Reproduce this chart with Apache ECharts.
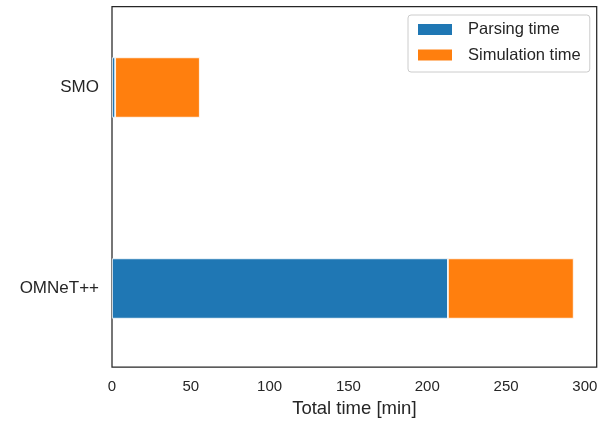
<!DOCTYPE html>
<html>
<head>
<meta charset="utf-8">
<style>
  html, body { margin: 0; padding: 0; background: #fff; overflow: hidden; }
  /* the canvas starts a little above the page so the row bands can reach past the frame */
  #chart { position: absolute; left: 0; top: -13px; width: 608px; height: 436px; }
</style>
<script src="https://cdn.jsdelivr.net/npm/echarts@6/dist/echarts.min.js"></script>
</head>
<body>
<div id="chart"></div>
<script>
// Tools compared, top to bottom
const tools = ['SMO', 'OMNeT++'];
// Minutes spent in each phase, per tool
const parsingTime = [2.0, 213.1];
const simulationTime = [53.7, 79.8];
const seriesNames = ['Parsing time', 'Simulation time'];
const xTicks = [0, 50, 100, 150, 200, 250, 300];

const xMax = 307.5;
const FONT = '"Liberation Sans", Arial, sans-serif';
const TEXT = '#262626';
const SHIFT = 13; // canvas offset above the page

const chart = echarts.init(document.getElementById('chart'), null, { renderer: 'canvas' });

const hiddenX = {
  type: 'value', min: 0, max: xMax, interval: 50,
  axisLine: { show: false }, axisTick: { show: false },
  axisLabel: { show: false }, splitLine: { show: false }
};

chart.setOption({
  animation: false,
  backgroundColor: '#fff',
  grid: [
    // framed plot area carrying the time axis
    { left: 112, right: 11.3, top: 6.5 + SHIFT, bottom: 55, show: true,
      borderColor: TEXT, borderWidth: 1.25, backgroundColor: 'transparent' },
    // band layout for the two tool rows
    { left: 112, right: 11.3, top: 0, height: 402 }
  ],
  legend: {
    orient: 'vertical',
    left: 408, top: 15 + SHIFT,
    data: seriesNames,
    icon: 'rect',
    itemWidth: 36, itemHeight: 13, itemGap: 8.5,
    padding: [6, 9, 8.5, 8],
    backgroundColor: '#fff',
    borderColor: '#cccccc', borderWidth: 1, borderRadius: 3,
    textStyle: { fontFamily: FONT, fontSize: 16.5, color: TEXT, padding: [0, 0, 0, 10] }
  },
  xAxis: [
    {
      gridIndex: 0, type: 'value', min: 0, max: xMax, interval: 50,
      name: 'Total time [min]', nameLocation: 'middle', nameGap: 31,
      nameTextStyle: { fontFamily: FONT, fontSize: 18.5, color: TEXT },
      axisLine: { show: false }, axisTick: { show: false }, splitLine: { show: false },
      axisLabel: {
        fontFamily: FONT, fontSize: 15, color: TEXT, margin: 12,
        showMaxLabel: false,
        formatter: v => (xTicks.includes(v) ? String(v) : '')
      }
    },
    Object.assign({ gridIndex: 1 }, hiddenX)
  ],
  yAxis: [
    { gridIndex: 0, type: 'value', show: false },
    {
      gridIndex: 1, type: 'category', data: tools, inverse: true,
      axisLine: { show: false }, axisTick: { show: false }, splitLine: { show: false },
      axisLabel: { fontFamily: FONT, fontSize: 17, color: TEXT, margin: 13 }
    }
  ],
  series: [
    {
      name: seriesNames[0], type: 'bar', stack: 'total',
      xAxisIndex: 1, yAxisIndex: 1, barWidth: '30%',
      data: parsingTime,
      itemStyle: { color: '#1f77b4', borderColor: '#ffffff', borderWidth: 0.8 }
    },
    {
      name: seriesNames[1], type: 'bar', stack: 'total',
      xAxisIndex: 1, yAxisIndex: 1, barWidth: '30%',
      data: simulationTime,
      itemStyle: { color: '#ff7f0e', borderColor: '#ffffff', borderWidth: 0.8 }
    }
  ]
});
</script>
</body>
</html>
